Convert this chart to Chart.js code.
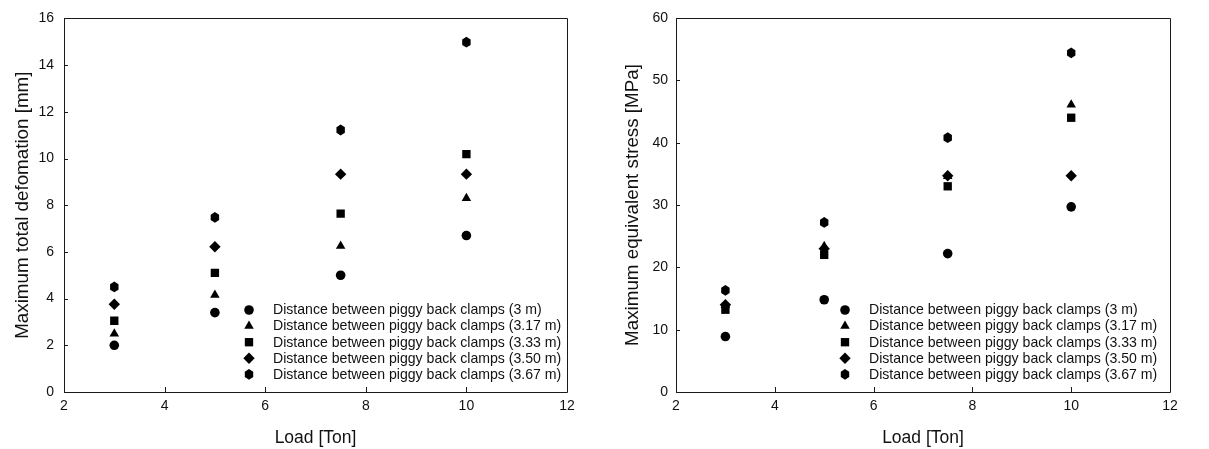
<!DOCTYPE html>
<html><head><meta charset="utf-8">
<script src="https://cdn.jsdelivr.net/npm/chart.js@4.4.1/dist/chart.umd.min.js"></script>
<style>
html,body{margin:0;padding:0;background:#fff;}
#wrap{position:relative;width:1209px;height:449px;overflow:hidden;}
#c1{position:absolute;left:0;top:0;}
#c2{position:absolute;left:600px;top:0;}
</style></head><body>
<div id="wrap">
<canvas id="c1" width="600" height="449"></canvas>
<canvas id="c2" width="609" height="449"></canvas>
</div>
<script>
// ---- data ----
const loads = [3, 5, 7.5, 10];
const seriesLabels = [
  'Distance between piggy back clamps (3 m)',
  'Distance between piggy back clamps (3.17 m)',
  'Distance between piggy back clamps (3.33 m)',
  'Distance between piggy back clamps (3.50 m)',
  'Distance between piggy back clamps (3.67 m)'
];
const deformation300 = [2.0, 3.4, 5.0, 6.7];
const deformation317 = [2.5, 4.15, 6.25, 8.3];
const deformation333 = [3.05, 5.1, 7.64, 10.19];
const deformation350 = [3.76, 6.22, 9.33, 9.33];
const deformation367 = [4.5, 7.48, 11.22, 14.98];

const stress300 = [8.9, 14.8, 22.2, 29.7];
const stress317 = [13.9, 23.4, 34.6, 46.1];
const stress333 = [13.2, 22.0, 33.0, 44.0];
const stress350 = [14.0, 23.0, 34.7, 34.7];
const stress367 = [16.3, 27.2, 40.8, 54.4];

const xTicks = [2, 4, 6, 8, 10, 12];
const yTicksLeft = [0, 2, 4, 6, 8, 10, 12, 14, 16];
const yTicksRight = [0, 10, 20, 30, 40, 50, 60];

// ---- styling ----
const FONT = "'Liberation Sans', Arial, Helvetica, sans-serif";
const INK = '#000';
const AXIS = '#1a1a1a';
const HEX_R = 5.4;

const markerStyles = [
  { pointStyle: 'circle', radius: 4.8 },
  { pointStyle: 'triangle', radius: 5.5 },
  { pointStyle: 'rect', radius: 5.9 },
  { pointStyle: 'rectRot', radius: 5.7 },
  { pointStyle: 'hexagon', radius: HEX_R }
];

function hexPath(ctx, x, y, R) {
  ctx.beginPath();
  for (let k = 0; k < 6; k++) {
    const a = Math.PI / 2 + k * Math.PI / 3;
    const px = x + R * 0.9 * Math.cos(a), py = y - R * Math.sin(a);
    if (k === 0) ctx.moveTo(px, py); else ctx.lineTo(px, py);
  }
  ctx.closePath();
}

function drawMarker(ctx, style, radius, x, y) {
  ctx.fillStyle = INK;
  ctx.strokeStyle = INK;
  if (style === 'hexagon') {
    hexPath(ctx, x, y, radius);
    ctx.fill();
  } else {
    Chart.helpers.drawPoint(ctx, { pointStyle: style, radius: radius, rotation: 0, borderWidth: 0 }, x, y);
  }
}

function buildDatasets(seriesList) {
  return seriesList.map((vals, i) => {
    const hex = markerStyles[i].pointStyle === 'hexagon';
    return {
      label: seriesLabels[i],
      data: loads.map((x, j) => ({ x: x, y: vals[j] })),
      showLine: false,
      markerStyle: markerStyles[i].pointStyle,
      markerRadius: markerStyles[i].radius,
      pointStyle: hex ? 'circle' : markerStyles[i].pointStyle,
      pointRadius: hex ? 0 : markerStyles[i].radius,
      pointHoverRadius: hex ? 0 : markerStyles[i].radius,
      pointBackgroundColor: INK,
      pointBorderColor: INK,
      pointBorderWidth: 0
    };
  });
}

// hexagon markers drawn at the element positions computed by the chart's scales
const hexPlugin = {
  id: 'hexMarkers',
  afterDatasetsDraw(chart) {
    const ctx = chart.ctx;
    ctx.save();
    chart.data.datasets.forEach((ds, i) => {
      if (ds.markerStyle !== 'hexagon') return;
      chart.getDatasetMeta(i).data.forEach(el => {
        drawMarker(ctx, 'hexagon', ds.markerRadius, el.x, el.y);
      });
    });
    ctx.restore();
  }
};

const framePlugin = {
  id: 'frame',
  afterDraw(chart) {
    const { ctx, chartArea: a } = chart;
    const xs = chart.scales.x, ys = chart.scales.y;
    ctx.save();
    ctx.strokeStyle = AXIS;
    ctx.lineWidth = 1;
    ctx.beginPath();
    ctx.rect(Math.round(a.left) + 0.5, Math.round(a.top) + 0.5,
             Math.round(a.right - a.left), Math.round(a.bottom - a.top));
    ctx.stroke();
    ctx.beginPath();
    xs.ticks.forEach(t => {
      const px = Math.round(xs.getPixelForValue(t.value)) + 0.5;
      ctx.moveTo(px, a.bottom);
      ctx.lineTo(px, a.bottom - 5);
    });
    ys.ticks.forEach(t => {
      const py = Math.round(ys.getPixelForValue(t.value)) + 0.5;
      ctx.moveTo(a.left, py);
      ctx.lineTo(a.left + 4, py);
    });
    ctx.stroke();
    ctx.restore();
  }
};

const legendPlugin = {
  id: 'insideLegend',
  afterDraw(chart, args, opts) {
    const { ctx, chartArea: a } = chart;
    ctx.save();
    ctx.font = '14.1px ' + FONT;
    ctx.textBaseline = 'middle';
    ctx.textAlign = 'left';
    chart.data.datasets.forEach((ds, i) => {
      const y = a.bottom - opts.bottomOffset + i * opts.rowGap;
      const mx = a.right - opts.markerOffset;
      drawMarker(ctx, ds.markerStyle, ds.markerRadius, mx, y);
      ctx.fillStyle = '#111';
      ctx.fillText(ds.label, a.right - opts.textOffset, y + 0.5);
    });
    ctx.restore();
  }
};

function makeChart(id, seriesList, yTitle, yTicks, cfg) {
  return new Chart(document.getElementById(id), {
    type: 'scatter',
    data: { datasets: buildDatasets(seriesList) },
    plugins: [hexPlugin, framePlugin, legendPlugin],
    options: {
      responsive: false,
      animation: false,
      devicePixelRatio: 1,
      layout: { padding: { left: 0, right: cfg.right, top: 18, bottom: 0 } },
      plugins: {
        legend: { display: false },
        tooltip: { enabled: false },
        insideLegend: cfg.legend
      },
      scales: {
        x: {
          type: 'linear',
          min: xTicks[0], max: xTicks[xTicks.length - 1],
          afterBuildTicks: s => { s.ticks = xTicks.map(v => ({ value: v })); },
          afterFit: s => { s.height = 57; },
          grid: { display: false, drawTicks: false },
          border: { display: false },
          ticks: { color: '#111', font: { family: FONT, size: 14 }, padding: 6, maxRotation: 0 },
          title: { display: true, text: 'Load [Ton]', color: '#111',
                   font: { family: FONT, size: 17.5 }, padding: { top: 0, bottom: 0 } }
        },
        y: {
          type: 'linear',
          min: yTicks[0], max: yTicks[yTicks.length - 1],
          afterBuildTicks: s => { s.ticks = yTicks.map(v => ({ value: v })); },
          afterFit: s => { s.width = cfg.yWidth; },
          grid: { display: false, drawTicks: false },
          border: { display: false },
          ticks: { color: '#111', font: { family: FONT, size: 14 }, padding: cfg.tickPad },
          title: { display: true, text: yTitle, color: '#111',
                   font: { family: FONT, size: 18.8 }, padding: { top: cfg.titlePad, bottom: 0 } }
        }
      }
    }
  });
}

makeChart('c1',
  [deformation300, deformation317, deformation333, deformation350, deformation367],
  'Maximum total defomation [mm]', yTicksLeft,
  { right: 33, yWidth: 64, tickPad: 10, titlePad: 11.5,
    legend: { bottomOffset: 82, rowGap: 16.1, markerOffset: 318, textOffset: 294 } });

makeChart('c2',
  [stress300, stress317, stress333, stress350, stress367],
  'Maximum equivalent stress [MPa]', yTicksRight,
  { right: 39, yWidth: 76, tickPad: 8, titlePad: 21.5,
    legend: { bottomOffset: 82, rowGap: 16.1, markerOffset: 325, textOffset: 301 } });
</script>
</body></html>
